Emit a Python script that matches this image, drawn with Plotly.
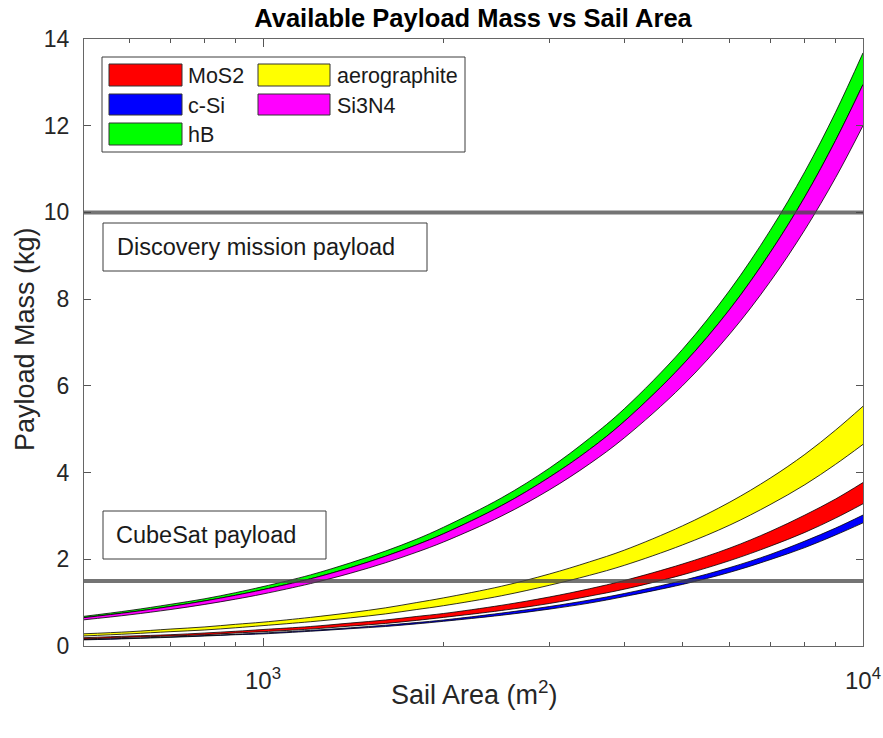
import plotly.graph_objects as go

# ---------------- data ----------------
sail_area = [500, 600, 700, 800, 900, 1000, 1200, 1400, 1600, 1800, 2000,
             2500, 3000, 3500, 4000, 5000, 6000, 7000, 8000, 9000, 10000]

mos2_low = [0.16, 0.20, 0.23, 0.26, 0.30, 0.33, 0.39, 0.46, 0.52, 0.59, 0.66,
            0.82, 0.98, 1.15, 1.31, 1.64, 1.97, 2.30, 2.62, 2.95, 3.28]
mos2_high = [0.19, 0.23, 0.26, 0.30, 0.34, 0.38, 0.45, 0.53, 0.60, 0.68, 0.75,
             0.94, 1.13, 1.32, 1.51, 1.89, 2.26, 2.64, 3.02, 3.39, 3.77]

csi_low = [0.14, 0.17, 0.20, 0.23, 0.26, 0.28, 0.34, 0.40, 0.45, 0.51, 0.57,
           0.71, 0.85, 0.99, 1.14, 1.42, 1.70, 1.99, 2.27, 2.56, 2.84]
csi_high = [0.15, 0.18, 0.21, 0.24, 0.27, 0.30, 0.36, 0.42, 0.48, 0.54, 0.60,
            0.76, 0.91, 1.06, 1.21, 1.51, 1.81, 2.11, 2.42, 2.72, 3.02]

hb_low = [0.65, 0.78, 0.91, 1.04, 1.17, 1.30, 1.55, 1.81, 2.07, 2.33, 2.59,
          3.24, 3.89, 4.53, 5.18, 6.48, 7.77, 9.07, 10.36, 11.66, 12.95]
hb_high = [0.68, 0.82, 0.96, 1.09, 1.23, 1.37, 1.64, 1.92, 2.19, 2.46, 2.74,
           3.42, 4.10, 4.79, 5.47, 6.84, 8.21, 9.58, 10.94, 12.31, 13.68]

aero_low = [0.23, 0.28, 0.33, 0.37, 0.42, 0.47, 0.56, 0.65, 0.74, 0.84, 0.93,
            1.16, 1.40, 1.63, 1.86, 2.33, 2.79, 3.26, 3.72, 4.19, 4.65]
aero_high = [0.28, 0.33, 0.39, 0.44, 0.50, 0.55, 0.66, 0.77, 0.88, 1.00, 1.11,
             1.38, 1.66, 1.94, 2.21, 2.77, 3.32, 3.87, 4.42, 4.98, 5.53]

si3n4_low = [0.60, 0.72, 0.84, 0.96, 1.08, 1.20, 1.44, 1.68, 1.92, 2.16, 2.40,
             3.00, 3.60, 4.20, 4.80, 6.00, 7.20, 8.40, 9.60, 10.80, 12.00]
si3n4_high = [0.65, 0.78, 0.91, 1.04, 1.17, 1.30, 1.55, 1.81, 2.07, 2.33, 2.59,
              3.24, 3.89, 4.53, 5.18, 6.48, 7.77, 9.07, 10.36, 11.66, 12.95]

materials = ["MoS2", "c-Si", "hB", "aerographite", "Si3N4"]
colors = ["#ff0000", "#0000ff", "#00ff00", "#ffff00", "#ff00ff"]
lows = [mos2_low, csi_low, hb_low, aero_low, si3n4_low]
highs = [mos2_high, csi_high, hb_high, aero_high, si3n4_high]

discovery_payload = 10
cubesat_payload = 1.5

x_major = [1000, 10000]
x_major_text = ["10<sup>3</sup>", "10<sup>4</sup>"]
x_minor = [600, 700, 800, 900, 2000, 3000, 4000, 5000, 6000, 7000, 8000, 9000]
y_ticks = [0, 2, 4, 6, 8, 10, 12, 14]

# ---------------- layout helpers ----------------
W, H = 883, 738
L, R, T, B = 84, 863, 39, 646
FONT = "Liberation Sans, Arial, Helvetica, sans-serif"
TXT = "#262626"


def px(xp):
    return (xp - L) / (R - L)


def py(yp):
    return (B - yp) / (B - T)


fig = go.Figure()

for name, col, lo, hi in zip(materials, colors, lows, highs):
    fig.add_trace(go.Scatter(x=sail_area, y=lo, mode="lines",
                             line=dict(color="black", width=0.8, shape="spline"),
                             showlegend=False, hoverinfo="skip"))
    fig.add_trace(go.Scatter(x=sail_area, y=hi, mode="lines", fill="tonexty",
                             fillcolor=col, name=name,
                             line=dict(color="black", width=0.8, shape="spline"),
                             showlegend=False))

shapes = []
annotations = []

# payload reference lines
for yv in [discovery_payload, cubesat_payload]:
    shapes.append(dict(type="line", xref="paper", yref="y", x0=0, x1=1, y0=yv, y1=yv,
                       line=dict(color="rgba(70,70,70,0.75)", width=4), layer="above"))

# text boxes
for (x0, x1, y0, y1, tx, label) in [
        (103, 427, 223, 271, 115, "Discovery mission payload"),
        (103, 326, 511, 559, 114, "CubeSat payload")]:
    shapes.append(dict(type="rect", xref="paper", yref="paper",
                       x0=px(x0), x1=px(x1), y0=py(y1), y1=py(y0),
                       line=dict(color="#3c3c3c", width=1), fillcolor="white", layer="above"))
    annotations.append(dict(x=px(tx), y=py((y0 + y1) / 2), xref="paper", yref="paper",
                            text=label, showarrow=False, xanchor="left", yanchor="middle",
                            font=dict(family=FONT, size=23.5, color="#1a1a1a")))

# legend (drawn manually, MATLAB style, two columns)
shapes.append(dict(type="rect", xref="paper", yref="paper",
                   x0=px(102), x1=px(465), y0=py(152), y1=py(57),
                   line=dict(color="#3c3c3c", width=1), fillcolor="white", layer="above"))
rows = [(64, 86), (94, 115), (123, 145)]
cols = [(109, 182, 186), (258, 330, 335)]
for i, (name, col) in enumerate(zip(materials, colors)):
    c = cols[i // 3]
    r = rows[i % 3]
    shapes.append(dict(type="rect", xref="paper", yref="paper",
                       x0=px(c[0]), x1=px(c[1]), y0=py(r[1]), y1=py(r[0]),
                       line=dict(color="#333333", width=1), fillcolor=col, layer="above"))
    annotations.append(dict(x=px(c[2]), y=py((r[0] + r[1]) / 2 + 1), xref="paper", yref="paper",
                            text=name, showarrow=False, xanchor="left", yanchor="middle",
                            font=dict(family=FONT, size=21.5, color="#1a1a1a")))

# axis titles
annotations.append(dict(x=px(474), y=py(693), xref="paper", yref="paper",
                        text="Sail Area (m<sup>2</sup>)", showarrow=False,
                        xanchor="center", yanchor="middle",
                        font=dict(family=FONT, size=27, color=TXT)))
annotations.append(dict(x=px(25), y=py(339), xref="paper", yref="paper",
                        text="Payload Mass (kg)", showarrow=False, textangle=-90,
                        xanchor="center", yanchor="middle",
                        font=dict(family=FONT, size=27, color=TXT)))

fig.update_layout(
    width=W, height=H,
    margin=dict(l=L, r=W - R, t=T, b=H - B),
    paper_bgcolor="white", plot_bgcolor="white",
    showlegend=False,
    title=dict(text="<b>Available Payload Mass vs Sail Area</b>", x=px(473), xref="paper",
               xanchor="center", y=1 - 18 / H, yref="container", yanchor="middle",
               font=dict(family=FONT, size=25.5, color="black")),
    font=dict(family=FONT, color=TXT),
    shapes=shapes,
    annotations=annotations,
)

fig.update_xaxes(type="log", range=[2.7016, 4], automargin=False,
                 tickmode="array", tickvals=x_major, ticktext=x_major_text,
                 ticks="inside", ticklen=8, tickcolor="#555555",
                 minor=dict(tickmode="array", tickvals=x_minor, ticks="inside",
                            ticklen=4, tickcolor="#555555"),
                 showline=True, linecolor="#666666", linewidth=1, mirror="ticks",
                 showgrid=False, zeroline=False,
                 tickfont=dict(family=FONT, size=24, color=TXT),
                 ticklabelstandoff=13)

fig.update_yaxes(range=[0, 14], automargin=False, tickmode="array", tickvals=y_ticks,
                 ticks="inside", ticklen=7, tickcolor="#555555",
                 showline=True,
                 linecolor="#666666", linewidth=1, mirror="ticks",
                 showgrid=False, zeroline=False,
                 tickfont=dict(family=FONT, size=23, color=TXT),
                 ticklabelstandoff=9)

fig.write_html("out.html")
